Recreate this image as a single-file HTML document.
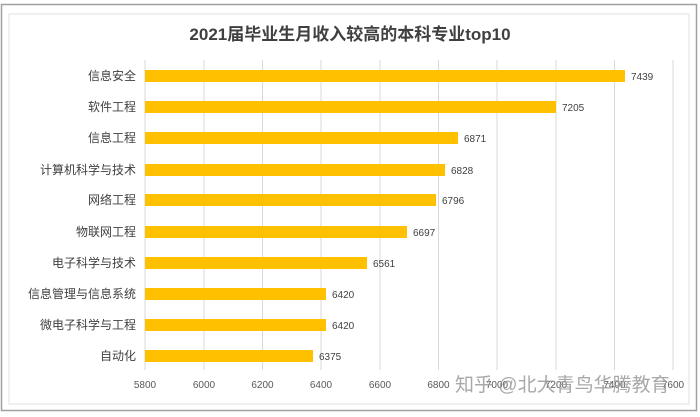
<!DOCTYPE html>
<html><head><meta charset="utf-8"><style>
body{margin:0;background:#fff;}
svg{display:block;font-family:"Liberation Sans","Noto Sans CJK SC",sans-serif;}
</style></head><body>
<svg width="700" height="417" viewBox="0 0 700 417">
<rect x="1.5" y="4.5" width="695" height="406" fill="#fff" stroke="#a0a0a0" stroke-width="1.5"/>
<rect x="9" y="14" width="680" height="390" fill="none" stroke="#e0e0e0"/>
<text x="350" y="40" text-anchor="middle" font-size="17" font-weight="bold" fill="#404040">2021届毕业生月收入较高的本科专业top10</text>
<g stroke="#d9d9d9" stroke-width="1">
<line x1="145" y1="60" x2="145" y2="370"/><line x1="204" y1="60" x2="204" y2="370"/><line x1="262.5" y1="60" x2="262.5" y2="370"/><line x1="321" y1="60" x2="321" y2="370"/><line x1="380" y1="60" x2="380" y2="370"/><line x1="438.5" y1="60" x2="438.5" y2="370"/><line x1="497" y1="60" x2="497" y2="370"/><line x1="556" y1="60" x2="556" y2="370"/><line x1="614.5" y1="60" x2="614.5" y2="370"/><line x1="673" y1="60" x2="673" y2="370"/>
</g>
<g fill="#ffc000">
<rect x="145" y="70" width="480" height="12"/>
<rect x="145" y="101" width="411" height="12"/>
<rect x="145" y="132" width="313" height="12"/>
<rect x="145" y="164" width="300" height="12"/>
<rect x="145" y="194" width="291" height="12"/>
<rect x="145" y="226" width="262" height="12"/>
<rect x="145" y="257" width="222" height="12"/>
<rect x="145" y="288" width="181" height="12"/>
<rect x="145" y="319" width="181" height="12"/>
<rect x="145" y="350" width="168" height="12"/>
</g>
<g font-size="12" fill="#404040" text-anchor="end">
<text x="136" y="80">信息安全</text><text x="136" y="111">软件工程</text><text x="136" y="142">信息工程</text><text x="136" y="174">计算机科学与技术</text><text x="136" y="204">网络工程</text><text x="136" y="236">物联网工程</text><text x="136" y="267">电子科学与技术</text><text x="136" y="298">信息管理与信息系统</text><text x="136" y="329">微电子科学与工程</text><text x="136" y="360">自动化</text>
</g>
<g font-size="10" fill="#404040">
<text x="631" y="80">7439</text><text x="562" y="111">7205</text><text x="464" y="142">6871</text><text x="451" y="174">6828</text><text x="442" y="204">6796</text><text x="413" y="236">6697</text><text x="373" y="267">6561</text><text x="332" y="298">6420</text><text x="332" y="329">6420</text><text x="319" y="360">6375</text>
</g>
<g font-size="10" fill="#595959" text-anchor="middle">
<text x="145" y="388">5800</text><text x="204" y="388">6000</text><text x="262.5" y="388">6200</text><text x="321" y="388">6400</text><text x="380" y="388">6600</text><text x="438.5" y="388">6800</text><text x="497" y="388">7000</text><text x="556" y="388">7200</text><text x="614.5" y="388">7400</text><text x="673" y="388">7600</text>
</g>
<text x="455" y="391" font-size="19" fill="#9a9a9a" opacity="0.85">知乎 @北大青鸟华腾教育</text>
</svg>
</body></html>
